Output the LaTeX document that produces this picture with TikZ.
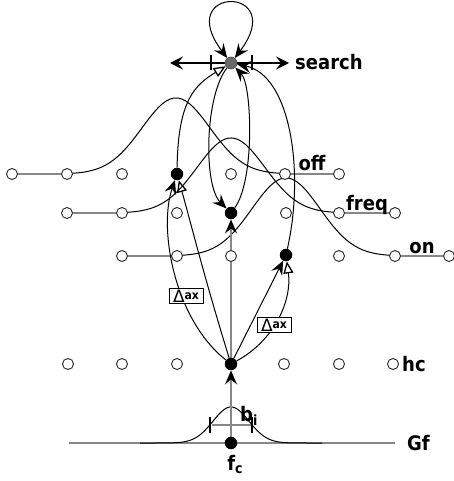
\documentclass[tikz,border=0pt]{standalone}
\usepackage{fontspec}
\setmainfont{DejaVu Sans}
\newfontfamily\lblfont[FakeStretch=0.9]{DejaVu Sans}
\usetikzlibrary{arrows.meta,calc}
\pgfdeclarelayer{background}
\pgfsetlayers{background,main}
\definecolor{lgray}{RGB}{135,135,135}
\definecolor{sgray}{RGB}{105,105,105}
\tikzset{
  oc/.style={circle,draw=black!85,fill=white,line width=0.9pt,minimum size=11pt,inner sep=0pt},
  bd/.style={circle,fill=black,minimum size=12.5pt,inner sep=0pt},
  sd/.style={circle,fill=sgray,draw=black!70,line width=0.6pt,minimum size=12pt,inner sep=0pt},
  lbl/.style={font=\lblfont\bfseries\fontsize{20}{20}\selectfont,inner sep=0pt},
  glin/.style={draw=lgray,line width=1.2pt},
  cur/.style={draw=black,line width=1pt},
  stl/.style={-{Stealth[length=14pt,width=12pt,inset=5pt,color=black]}},
  tri/.style={-{Triangle[open,length=12pt,width=10pt,color=black,line width=1.3pt]}},
  tickbar/.style={fill=black,minimum width=2.6pt,minimum height=15pt,inner sep=0pt},
  axbox/.style={draw=black,fill=white,line width=0.8pt,minimum width=34pt,minimum height=15pt,inner sep=0.5pt},
}
\begin{document}
\begin{tikzpicture}[x=1pt,y=-1pt]
\useasboundingbox (0,0) rectangle (453,481);
% search node
\node[sd] (S) at (231,63) {};
\coordinate (lt) at (170,63);
\coordinate (rt) at (289,63);
\node[tickbar] (tl) at (211,63) {};
\node[tickbar] (tr) at (252,63) {};
\node[lbl,anchor=west] (lsearch) at (295,62) {search};
% off row
\node[oc] (o1) at (12,174) {};
\node[oc] (o2) at (67,174) {};
\node[oc] (o3) at (122,174) {};
\node[bd] (O)  at (177,174) {};
\node[oc] (o5) at (231,174) {};
\node[oc] (o6) at (285,174) {};
\node[oc] (o7) at (339,174) {};
% freq row
\node[oc] (f1) at (67,213) {};
\node[oc] (f2) at (122,213) {};
\node[oc] (f3) at (177,213) {};
\node[bd] (F)  at (231,213) {};
\node[oc] (f5) at (286,213) {};
\node[oc] (f6) at (339,213) {};
\node[oc] (f7) at (395,213) {};
% on row
\node[oc] (n1) at (122,256) {};
\node[oc] (n2) at (177,256) {};
\node[oc] (n3) at (231,256) {};
\node[bd] (N)  at (286,255) {};
\node[oc] (n5) at (339,256) {};
\node[oc] (n6) at (395,256) {};
\node[oc] (n7) at (449,256) {};
% hc row
\node[oc] (h1) at (68,364) {};
\node[oc] (h2) at (122,364) {};
\node[oc] (h3) at (177,364) {};
\node[bd] (H)  at (231,364) {};
\node[oc] (h5) at (284,364) {};
\node[oc] (h6) at (339,364) {};
\node[oc] (h7) at (393,364) {};
% Gf
\coordinate (g1) at (69,443);
\coordinate (g2) at (395,443);
\node[bd] (fc) at (231,443) {};
\node[tickbar,minimum height=16pt] (bl) at (210,425) {};
\node[tickbar,minimum height=16pt] (br) at (252,425) {};
% labels
\node[lbl,anchor=base] (loff) at ($(o6)!0.5!(o7)+(0,-3)$) {off};
\node[lbl,anchor=base] (lfreq) at ($(f6)!0.5!(f7)+(0,-3)$) {freq};
\node[lbl,anchor=base] (lon) at ($(n6)!0.5!(n7)+(0,-3)$) {on};
\node[lbl,anchor=west] (lhc) at (402,364) {hc};
\node[lbl,anchor=west] (lgf) at (407,443) {Gf};
\node[lbl,anchor=base] (lfc) at (235,470) {f\raisebox{-3pt}{\fontsize{14}{14}\selectfont c}};
\node[lbl,anchor=base west] (lbi) at (240,421) {b\raisebox{-4pt}{\fontsize{14}{14}\selectfont i}};
\node[axbox] (ax1) at (186,296) {\fontsize{17}{17}\selectfont Δ\raisebox{3pt}{\lblfont\bfseries\fontsize{12}{12}\selectfont ax}};
\node[axbox] (ax2) at (274,325) {\fontsize{17}{17}\selectfont Δ\raisebox{3pt}{\lblfont\bfseries\fontsize{12}{12}\selectfont ax}};
\begin{pgfonlayer}{background}
% gray lines
\draw[glin] (o1) -- (o2);
\draw[glin] (f1) -- (f2);
\draw[glin] (n1) -- (n2);
\draw[glin] (o6) -- (o7);
\draw[glin] (f6) -- (f7);
\draw[glin] (n6) -- (n7);
\draw[glin] (g1) -- (g2);
\draw[glin] (bl) -- (br);
% gaussians
\draw[cur] plot[domain=67:285,samples=120] (\x,{174-76*exp(-((\x-176)/34)^2/2)});
\draw[cur] plot[domain=122:339,samples=120] (\x,{213-75*exp(-((\x-231)/34)^2/2)});
\draw[cur] plot[domain=177:395,samples=120] (\x,{256-78*exp(-((\x-286)/34)^2/2)});
\draw[cur] plot[domain=140:322,samples=120] (\x,{443-36*exp(-((\x-231)/18)^2/2)});
% search arrows
\draw[black,line width=1.6pt,-{Stealth[length=13pt,width=13pt,inset=5pt]}] (S) -- (lt);
\draw[black,line width=1.6pt,-{Stealth[length=13pt,width=13pt,inset=5pt]}] (S) -- (rt);
\draw[cur,{Stealth[length=14pt,width=12pt,inset=5pt]}-{Stealth[length=14pt,width=12pt,inset=5pt]}] (S) .. controls (172,-15) and (290,-15) .. (S);
% curves
\draw[cur,tri] (O) .. controls (178,100) and (195,85) .. (S);
\draw[cur,stl] (S) .. controls (205,95) and (203,185) .. (F);
\draw[cur,stl] (F) .. controls (255,180) and (252,85) .. (S);
\draw[cur,stl] (N) .. controls (305,170) and (290,75) .. (S);
\draw[cur,stl] (H) .. controls (175,320) and (158,230) .. (O);
\draw[cur,tri] (H) .. controls (205,280) and (190,220) .. (O);
\draw[glin,stl] (H) -- (F);
\draw[cur,stl] (H) -- (N);
\draw[cur,tri] (H) .. controls (275,340) and (292,300) .. (N);
\draw[glin,stl] (fc) -- (H);
\end{pgfonlayer}
\end{tikzpicture}
\end{document}
